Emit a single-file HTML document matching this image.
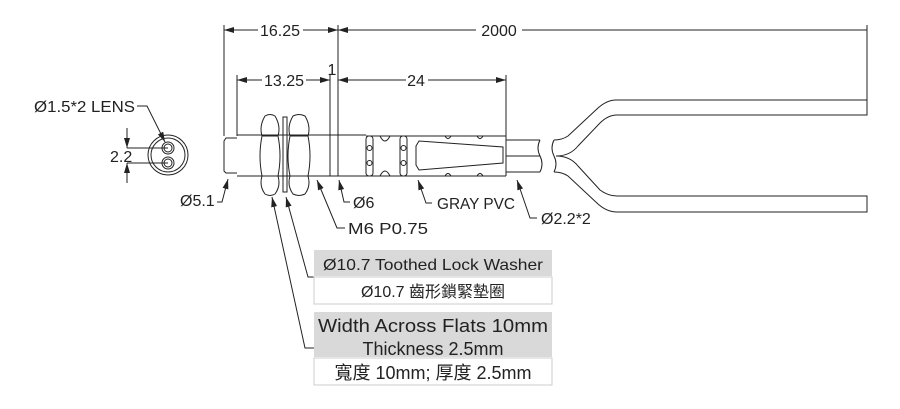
<!DOCTYPE html>
<html><head><meta charset="utf-8"><style>
html,body{margin:0;padding:0;background:#fff;}
svg{display:block;}
text{font-family:"Liberation Sans","Noto Sans CJK TC",sans-serif;fill:#222;}
</style></head><body>
<svg width="900" height="409" viewBox="0 0 900 409" xmlns="http://www.w3.org/2000/svg">
<defs>
<marker id="a" markerWidth="10" markerHeight="6" refX="10" refY="3" orient="auto" markerUnits="userSpaceOnUse"><path d="M0,0 L10,3 L0,6 z" fill="#222"/></marker>
</defs>
<g stroke="#222" stroke-width="1" fill="none">
<line x1="224" y1="25" x2="224" y2="136"/>
<line x1="338" y1="25" x2="338" y2="176"/>
<line x1="330" y1="75" x2="330" y2="176"/>
<line x1="237" y1="75" x2="237" y2="136"/>
<line x1="506" y1="75" x2="506" y2="136"/>
<line x1="867" y1="25" x2="867" y2="115"/>
<line x1="258" y1="30" x2="224" y2="30" marker-end="url(#a)"/>
<line x1="303" y1="30" x2="338" y2="30" marker-end="url(#a)"/>
<line x1="476" y1="30" x2="338" y2="30" marker-end="url(#a)"/>
<line x1="522" y1="30" x2="867" y2="30"/>
<line x1="262" y1="80" x2="237" y2="80" marker-end="url(#a)"/>
<line x1="306" y1="80" x2="330" y2="80" marker-end="url(#a)"/>
<line x1="406" y1="80" x2="338" y2="80" marker-end="url(#a)"/>
<line x1="428" y1="80" x2="506" y2="80" marker-end="url(#a)"/>
<path d="M237,138 L226,138 L224,141 L224,171 L226,173 L237,173"/>
<line x1="237" y1="135" x2="366" y2="135"/>
<line x1="237" y1="176" x2="366" y2="176"/>
<path d="M265,116 Q270,113 275,116 Q281,126 278,136 Q282,156 278,176 Q281,186 275,194 Q270,197 265,194 Q259,186 262,176 Q258,156 262,136 Q259,126 265,116 Z M262,136 L278,136 M262,176 L278,176"/>
<path d="M293,116 Q299,113 305,116 Q311,126 308,136 Q312,156 308,176 Q311,186 305,194 Q299,197 293,194 Q287,186 290,176 Q286,156 290,136 Q287,126 293,116 Z M290,136 L308,136 M290,176 L308,176"/>
<rect x="283" y="117" width="4" height="75"/>
<path d="M366,136 L506,136 M366,176 L506,176"/>
<rect x="366" y="136" width="7" height="40" rx="3"/>
<rect x="400" y="136" width="7" height="40" rx="3"/>
<circle cx="369.5" cy="148" r="2.5"/><circle cx="369.5" cy="163" r="2.5"/>
<circle cx="403.5" cy="148" r="2.5"/><circle cx="403.5" cy="163" r="2.5"/>
<path d="M380,136 Q385,146 390,136 M380,176 Q385,166 390,176"/>
<path d="M416,146 L419,141 L503,147 L503,163 L419,170 L416,165 Z"/>
<path d="M445,136 Q448,141 451,136 M477,136 Q480,141 483,136 M445,176 Q448,171 451,176 M477,176 Q480,171 483,176"/>
<line x1="506" y1="136" x2="506" y2="176"/>
<path d="M506,140 L540,140 M506,156 L540,156 M506,172 L540,172"/>
<path d="M540,140 Q536,148 540,156 Q544,164 540,172"/>
<path d="M554,140 Q550,148 554,156 Q558,164 554,172"/>
<path d="M554,140 Q562,140 568,136 L598,108 Q607,100 616,100 L867,100 L867,115 L617,115 Q608,115 600,123 L578,146 Q570,156 556,156"/>
<path d="M556,156 Q570,156 578,166 L600,190 Q608,196 617,196 L867,196 L867,212 L617,212 Q607,212 598,204 L568,176 Q562,172 554,172"/>
<circle cx="168" cy="155" r="20"/><circle cx="168" cy="155" r="17"/>
<circle cx="168" cy="148" r="6"/><circle cx="168" cy="148" r="4"/>
<circle cx="168" cy="163" r="6"/><circle cx="168" cy="163" r="4"/>
<line x1="127" y1="148" x2="168" y2="148"/><line x1="127" y1="163" x2="168" y2="163"/>
<line x1="127" y1="128" x2="127" y2="148" marker-end="url(#a)"/>
<line x1="127" y1="183" x2="127" y2="163" marker-end="url(#a)"/>
<path d="M137,106 L147,106 L165,142" marker-end="url(#a)"/>
<path d="M217,202 L222,202 L228,179" marker-end="url(#a)"/>
<path d="M350,202 L344,202 L339,180" marker-end="url(#a)"/>
<path d="M345,228 L337,228 L317,180" marker-end="url(#a)"/>
<path d="M432,203 L426,203 L418,180" marker-end="url(#a)"/>
<path d="M537,218 L530,218 L517,180" marker-end="url(#a)"/>
<path d="M314,277 L308,277 L286,197" marker-end="url(#a)"/>
<path d="M314,348 L305,348 L272,197" marker-end="url(#a)"/>
</g>
<rect x="314" y="250" width="238" height="26" fill="#d9d9d9"/>
<rect x="314" y="277" width="238" height="27" fill="#fff" stroke="#ccc"/>
<rect x="314" y="312" width="238" height="45" fill="#d9d9d9"/>
<rect x="314" y="358" width="238" height="27" fill="#fff" stroke="#ccc"/>
<g font-size="16">
<text x="280" y="36" text-anchor="middle">16.25</text>
<text x="499" y="36" text-anchor="middle">2000</text>
<text x="284" y="86" text-anchor="middle">13.25</text>
<text x="332" y="75" text-anchor="middle">1</text>
<text x="416" y="86" text-anchor="middle">24</text>
<text x="34" y="112" textLength="101" lengthAdjust="spacingAndGlyphs">Ø1.5*2  LENS</text>
<text x="110" y="162">2.2</text>
<text x="180" y="206">Ø5.1</text>
<text x="353" y="208">Ø6</text>
<text x="348" y="234" textLength="80" lengthAdjust="spacingAndGlyphs">M6  P0.75</text>
<text x="437" y="209" textLength="78" lengthAdjust="spacingAndGlyphs">GRAY PVC</text>
<text x="541" y="224">Ø2.2*2</text>
<text x="433" y="270" text-anchor="middle" textLength="220" lengthAdjust="spacingAndGlyphs">Ø10.7 Toothed Lock Washer</text>
<text x="433" y="297" text-anchor="middle">Ø10.7 齒形鎖緊墊圈</text>
</g>
<g font-size="18">
<text x="433" y="332" text-anchor="middle" textLength="230" lengthAdjust="spacingAndGlyphs">Width Across Flats 10mm</text>
<text x="433" y="355" text-anchor="middle">Thickness 2.5mm</text>
<text x="433" y="379" text-anchor="middle">寬度 10mm; 厚度 2.5mm</text>
</g>
</svg>
</body></html>
